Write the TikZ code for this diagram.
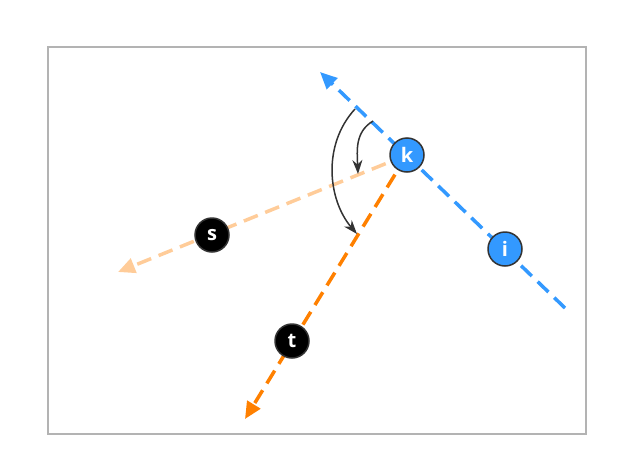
\documentclass[tikz,border=0pt]{standalone}
\usepackage{fontspec}
\setmainfont{Open Sans}
\usetikzlibrary{arrows.meta,backgrounds}
\definecolor{vblue}{HTML}{3399FF}
\definecolor{vpeach}{HTML}{FFCC99}
\definecolor{vorange}{HTML}{FF8000}
\definecolor{vdark}{HTML}{333333}
\definecolor{vframe}{HTML}{B3B3B3}
\begin{document}
\begin{tikzpicture}[x=1pt,y=-1pt,
  vert/.style={circle,draw=vdark,line width=1.5pt,minimum size=34pt,inner sep=0pt,
    text=white,font=\fontsize{20}{20}\selectfont\bfseries},
  bluev/.style={vert,fill=vblue},
  blackv/.style={vert,fill=black},
  ray/.style={line width=3.5pt,dash pattern=on 15pt off 8pt,
    -{Triangle[length=17pt,width=15pt]}},
  anglearc/.style={vdark,line width=1.5pt,-{Stealth[length=14pt,width=10pt]}}]
\useasboundingbox (0,0) rectangle (618,466);
\draw[vframe,line width=2pt] (48,47) rectangle (586,434);
\node[bluev] (k) at (407,155) {k};
\node[bluev] (i) at (505,249) {i};
\node[blackv] (s) at (212,235) {s};
\node[blackv] (t) at (292,341) {t};
\coordinate (bstart) at (565,308);
\coordinate (btip) at (320,72);
\coordinate (ptip) at (118,272);
\coordinate (otip) at (245,419);
\coordinate (a1s) at (355,109);
\coordinate (a1e) at (357,234);
\coordinate (a2s) at (373,121);
\coordinate (a2e) at (358,174);
\begin{pgfonlayer}{background}
\draw[ray,vblue] (bstart) -- (btip);
\draw[ray,vpeach] (k.center) -- (ptip);
\draw[ray,vorange] (k.center) -- (otip);
\end{pgfonlayer}
\draw[anglearc] (a1s) .. controls (322,145) and (328,200) .. (a1e);
\draw[anglearc] (a2s) .. controls (355,132) and (357,150) .. (a2e);
\end{tikzpicture}
\end{document}
